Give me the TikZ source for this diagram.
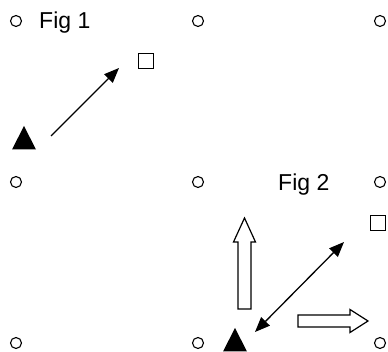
\documentclass[tikz,border=0pt]{standalone}
\usepackage{fontspec}
\setmainfont{Liberation Sans}
\usetikzlibrary{arrows.meta}
\begin{document}
\begin{tikzpicture}[x=1pt,y=-1pt,
  dot/.style={circle,draw,line width=1.1pt,minimum size=11pt,inner sep=0pt},
  sq/.style={rectangle,draw,line width=1pt,minimum size=15pt,inner sep=0pt},
  lbl/.style={anchor=base west,inner sep=0pt,font=\fontsize{23}{26}\selectfont},
  conn/.style={line width=1.3pt,-{Triangle[length=15pt,width=12pt]}},
  dconn/.style={line width=1.3pt,{Triangle[length=15pt,width=12pt]}-{Triangle[length=15pt,width=12pt]}},
  blk/.style={draw,line width=1.2pt,fill=white,line join=miter}]
\useasboundingbox (0,0) rectangle (388,352);
% grid of small circles
\node[dot] (c11) at (16,21) {};
\node[dot] (c12) at (198,21) {};
\node[dot] (c13) at (380,21) {};
\node[dot] (c21) at (16,182) {};
\node[dot] (c22) at (198,182) {};
\node[dot] (c23) at (380,182) {};
\node[dot] (c31) at (16,343) {};
\node[dot] (c32) at (198,343) {};
\node[dot] (c33) at (380,343) {};
% labels
\node[lbl] (f1) at (39,29) {Fig 1};
\node[lbl] (f2) at (278,191) {Fig 2};
% squares
\node[sq] (s1) at (146,61) {};
\node[sq] (s2) at (378,223) {};
% triangles
\coordinate (t1) at (24,138);
\fill (12,149.5) -- (24,126) -- (36,149.5) -- cycle;
\coordinate (t2) at (235,340);
\fill (223,351.5) -- (235,328) -- (247,351.5) -- cycle;
% connectors
\coordinate (a1s) at (51,136);
\coordinate (a1e) at (119,68);
\draw[conn] (a1s) -- (a1e);
\coordinate (a2s) at (255,332);
\coordinate (a2e) at (344,242);
\draw[dconn] (a2s) -- (a2e);
% block arrows
\draw[blk] (238,309) -- (238,242) -- (233.5,242) -- (244.5,218) -- (255.5,242) -- (251,242) -- (251,309) -- cycle;
\draw[blk] (298,315) -- (350,315) -- (350,309.5) -- (368,321) -- (350,332.5) -- (350,327) -- (298,327) -- cycle;
\end{tikzpicture}
\end{document}
